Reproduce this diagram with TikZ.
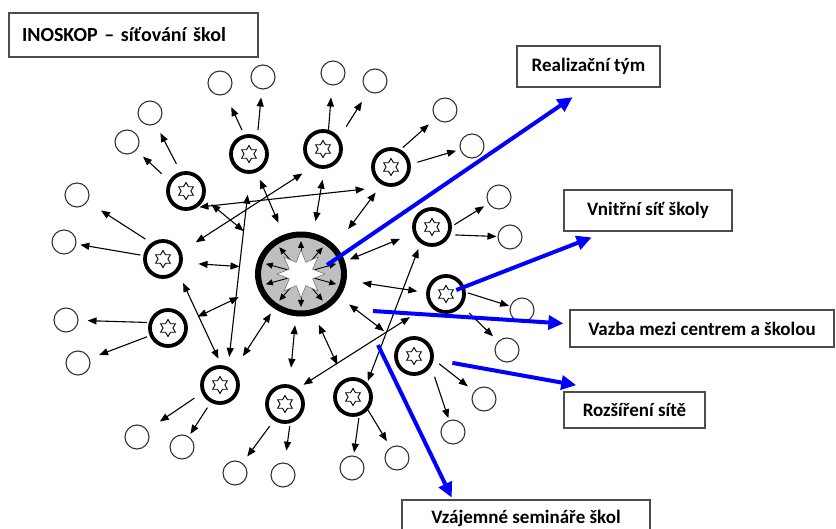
\documentclass[tikz,border=0pt]{standalone}
\usepackage{fontspec}
\setmainfont{Carlito}
\usetikzlibrary{arrows.meta,shapes.geometric,calc}

\tikzset{
  school/.style={circle,draw=black,line width=3.8pt,fill=white,minimum size=36pt,inner sep=0pt},
  david/.style={star,star points=6,star point ratio=1.73,draw=black,line width=0.9pt,fill=white,minimum size=17pt,inner sep=0pt},
  peer/.style={circle,draw=black!80,line width=1.1pt,fill=white,minimum size=24pt,inner sep=0pt},
  namebox/.style={draw=black!70,line width=1.2pt,fill=white,inner sep=0pt,font=\bfseries\fontsize{19}{22}\selectfont},
  spread/.style={-{Triangle[length=9pt,width=7pt]},line width=1.1pt},
  twoway/.style={{Triangle[length=9pt,width=7pt]}-{Triangle[length=9pt,width=7pt]},line width=1.1pt},
  inarr/.style={-{Triangle[length=7pt,width=6pt]},line width=0.9pt},
  bluearr/.style={-{Triangle[length=15pt,width=14pt]},line width=4pt,draw=blue}
}

\begin{document}
\begin{tikzpicture}[x=1pt,y=-1pt]
    \path[use as bounding box,fill=white] (0,0) rectangle (836,529);
    % boxes
    \node[namebox,text width=223pt,inner xsep=13pt,minimum height=44pt,align=left,font=\bfseries\fontsize{20}{24}\selectfont] (ltitle) at (133.5,35) {INOSKOP – síťování škol};
    \node[namebox,minimum width=143pt,minimum height=41pt] (lreal) at (588.5,66.5) {Realizační tým};
    \node[namebox,minimum width=168pt,minimum height=41pt] (lvnit) at (648,210.5) {Vnitřní síť školy};
    \node[namebox,minimum width=264pt,minimum height=37pt] (lvazba) at (702,328.5) {Vazba mezi centrem a školou};
    \node[namebox,minimum width=141pt,minimum height=36pt] (lrozs) at (634.5,410) {Rozšíření sítě};
    \node[namebox,minimum width=248pt,minimum height=30pt,text height=18pt,text depth=1pt] (lvzaj) at (526,515) {Vzájemné semináře škol};
    % outer schools
    \node[peer] (p1a) at (220,83) {};
    \node[peer] (p1b) at (263,77) {};
    \node[peer] (p2a) at (333,73) {};
    \node[peer] (p2b) at (375,81) {};
    \node[peer] (p3a) at (445,110) {};
    \node[peer] (p3b) at (472,146) {};
    \node[peer] (p4a) at (150,113) {};
    \node[peer] (p4b) at (127,142) {};
    \node[peer] (p5a) at (77,195) {};
    \node[peer] (p5b) at (64,242) {};
    \node[peer] (p6a) at (499,197) {};
    \node[peer] (p6b) at (510,237) {};
    \node[peer] (p7a) at (522,310) {};
    \node[peer] (p7b) at (507,350) {};
    \node[peer] (p8a) at (484,399) {};
    \node[peer] (p8b) at (453,432) {};
    \node[peer] (p9a) at (66,320) {};
    \node[peer] (p9b) at (78,363) {};
    \node[peer] (p10a) at (137,437) {};
    \node[peer] (p10b) at (182,447) {};
    \node[peer] (p11a) at (235,473) {};
    \node[peer] (p11b) at (283,475) {};
    \node[peer] (p12a) at (352,468) {};
    \node[peer] (p12b) at (397,458) {};
    % network schools
    \node[school] (s1) at (249,154) {};
    \node[david] (d1) at (s1) {};
    \node[school] (s2) at (323,149) {};
    \node[david] (d2) at (s2) {};
    \node[school] (s3) at (391,167) {};
    \node[david] (d3) at (s3) {};
    \node[school] (s4) at (186,191) {};
    \node[david] (d4) at (s4) {};
    \node[school] (s5) at (163,259) {};
    \node[david] (d5) at (s5) {};
    \node[school] (s6) at (432,227) {};
    \node[david] (d6) at (s6) {};
    \node[school] (s7) at (446,294) {};
    \node[david] (d7) at (s7) {};
    \node[school] (s8) at (414,356) {};
    \node[david] (d8) at (s8) {};
    \node[school] (s9) at (168,328) {};
    \node[david] (d9) at (s9) {};
    \node[school] (s10) at (220,385) {};
    \node[david] (d10) at (s10) {};
    \node[school] (s11) at (285,404) {};
    \node[david] (d11) at (s11) {};
    \node[school] (s12) at (353,397) {};
    \node[david] (d12) at (s12) {};
    % centre
    \node[ellipse,draw=black,line width=6pt,fill=black!25,minimum width=86pt,minimum height=79pt,inner sep=0pt] (hub) at (301,274) {};
    \draw[inarr] ($(hub)+(18:12)$) -- ($(hub)+(18:37 and 33)$);
    \draw[inarr] ($(hub)+(54:12)$) -- ($(hub)+(54:37 and 33)$);
    \draw[inarr] ($(hub)+(90:12)$) -- ($(hub)+(90:37 and 33)$);
    \draw[inarr] ($(hub)+(126:12)$) -- ($(hub)+(126:37 and 33)$);
    \draw[inarr] ($(hub)+(162:12)$) -- ($(hub)+(162:37 and 33)$);
    \draw[inarr] ($(hub)+(198:12)$) -- ($(hub)+(198:37 and 33)$);
    \draw[inarr] ($(hub)+(234:12)$) -- ($(hub)+(234:37 and 33)$);
    \draw[inarr] ($(hub)+(270:12)$) -- ($(hub)+(270:37 and 33)$);
    \draw[inarr] ($(hub)+(306:12)$) -- ($(hub)+(306:37 and 33)$);
    \draw[inarr] ($(hub)+(342:12)$) -- ($(hub)+(342:37 and 33)$);
    \node[star,star points=8,star point ratio=1.9,draw=black!55,line width=0.6pt,fill=white,minimum size=48pt,inner sep=0pt] (hubstar) at (hub) {};
    % school -> outer school
    \draw[spread,shorten <=5pt,shorten >=14pt] (s1.104) -- (p1a);
    \draw[spread,shorten <=6pt,shorten >=8pt] (s1.65) -- (p1b);
    \draw[spread,shorten <=0pt,shorten >=12pt] (s2.74) -- (p2a);
    \draw[spread,shorten <=13pt,shorten >=12pt] (s2.35) -- (p2b);
    \draw[spread,shorten <=3pt,shorten >=9pt] (s3.61) -- (p3a);
    \draw[spread,shorten <=7pt,shorten >=4pt] (s3.8) -- (p3b);
    \draw[spread,shorten <=9pt,shorten >=10pt] (s4.106) -- (p4a);
    \draw[spread,shorten <=10pt,shorten >=9pt] (s4.148) -- (p4b);
    \draw[spread,shorten <=7pt,shorten >=16pt] (s5.126) -- (p5a);
    \draw[spread,shorten <=3pt,shorten >=4pt] (s5.170) -- (p5b);
    \draw[spread,shorten <=3pt,shorten >=5pt] (s6.2) -- (p6a);
    \draw[spread,shorten <=5pt,shorten >=1pt] (s6.-23) -- (p6b);
    \draw[spread,shorten <=2pt,shorten >=1pt] (s7.5) -- (p7a);
    \draw[spread,shorten <=10pt,shorten >=7pt] (s7.-37) -- (p7b);
    \draw[spread,shorten <=7pt,shorten >=8pt] (s8.-10) -- (p8a);
    \draw[spread,shorten <=11pt,shorten >=2pt] (s8.-31) -- (p8b);
    \draw[spread,shorten <=2pt,shorten >=9pt] (s9.164) -- (p9a);
    \draw[spread,shorten <=3pt,shorten >=10pt] (s9.-157) -- (p9b);
    \draw[spread,shorten <=9pt,shorten >=15pt] (s10.-156) -- (p10a);
    \draw[spread,shorten <=6pt,shorten >=3pt] (s10.-118) -- (p10b);
    \draw[spread,shorten <=7pt,shorten >=8pt] (s11.-124) -- (p11a);
    \draw[spread,shorten <=3pt,shorten >=12pt] (s11.-75) -- (p11b);
    \draw[spread,shorten <=2pt,shorten >=3pt] (s12.-72) -- (p12a);
    \draw[spread,shorten <=0pt,shorten >=7pt] (s12.-41) -- (p12b);
    % school <-> centre
    \draw[twoway,shorten <=8pt,shorten >=13pt] (s1.-67) -- (hub.114);
    \draw[twoway,shorten <=11pt,shorten >=12pt] (s2.-86) -- (hub.73);
    \draw[twoway,shorten <=10pt,shorten >=21pt] (s3.-118) -- (hub.39);
    \draw[twoway,shorten <=9pt,shorten >=27pt] (s4.-22) -- (hub.145);
    \draw[twoway,shorten <=16pt,shorten >=16pt] (s5.-11) -- (hub.172);
    \draw[twoway,shorten <=14pt,shorten >=5pt] (s6.199) -- (hub.16);
    \draw[twoway,shorten <=9pt,shorten >=16pt] (s7.176) -- (hub.-8);
    \draw[twoway,shorten <=19pt,shorten >=12pt] (s8.138) -- (hub.-31);
    \draw[twoway,shorten <=12pt,shorten >=21pt] (s9.18) -- (hub.198);
    \draw[twoway,shorten <=17pt,shorten >=6pt] (s10.47) -- (hub.-128);
    \draw[twoway,shorten <=17pt,shorten >=9pt] (s11.77) -- (hub.-97);
    \draw[twoway,shorten <=16pt,shorten >=11pt] (s12.117) -- (hub.-72);
    % school <-> school
    \draw[twoway,shorten <=2pt,shorten >=23pt] (s4.-55) -- (s3.-100);
    \draw[twoway,shorten <=17pt,shorten >=13pt] (s5.22) -- (s2.-119);
    \draw[twoway,shorten <=21pt,shorten >=10pt] (s1.-87) -- (s10.66);
    \draw[twoway,shorten <=12pt,shorten >=7pt] (s5.-41) -- (s10.86);
    \draw[twoway,shorten <=6pt,shorten >=2pt] (s6.-125) -- (s12.45);
    \draw[twoway,shorten <=23pt,shorten >=7pt] (s7.-147) -- (s11.51);
    % blue pointers
    \coordinate (b1) at (327,265);
    \coordinate (b3) at (373,311);
    \coordinate (b5) at (378,345);
    \draw[bluearr,shorten >=17pt] (b1) -- (lreal.-95);
    \draw[bluearr,shorten <=11pt,shorten >=16pt] (s7.center) -- (lvnit.-153);
    \draw[bluearr,shorten >=6pt] (b3) -- (lvazba.178);
    \draw[bluearr,shorten <=39pt,shorten >=35pt] (s8.center) -- (lrozs.142);
    \draw[bluearr,shorten >=2pt] (b5) -- (lvzaj.168);
\end{tikzpicture}
\end{document}
